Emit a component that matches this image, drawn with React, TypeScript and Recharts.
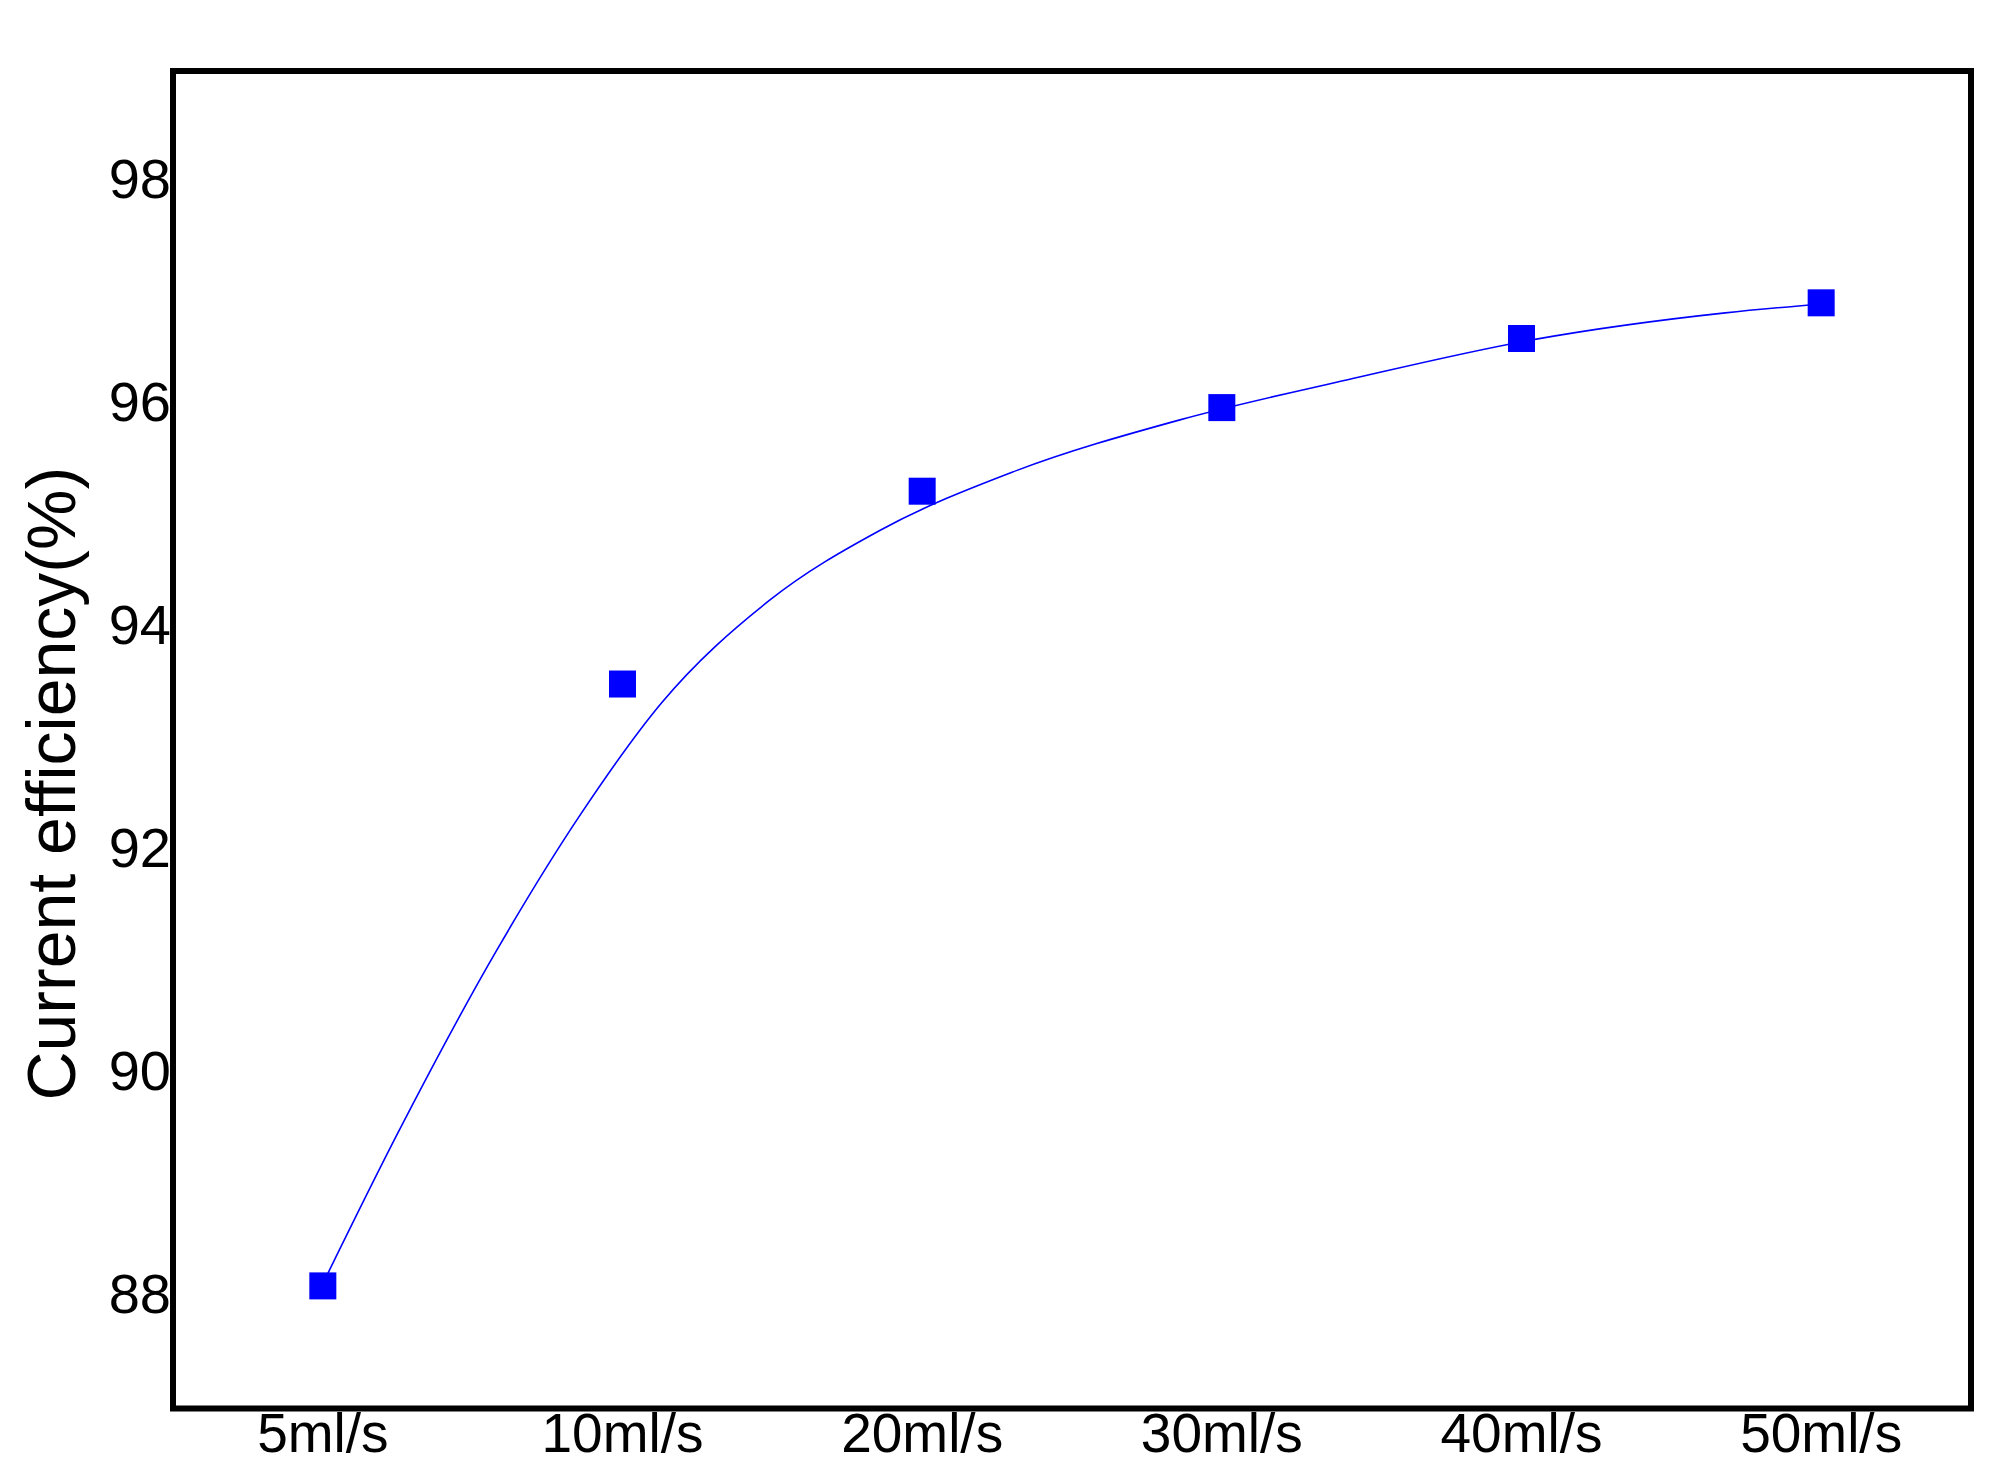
import React from "react";
import {
  ComposedChart,
  Line,
  Scatter,
  XAxis,
  YAxis,
  ReferenceArea,
} from "recharts";

// Categories (flow rates) shown on the x axis
const categories = ["5ml/s", "10ml/s", "20ml/s", "30ml/s", "40ml/s", "50ml/s"];

// Measured current efficiency (%) at each flow rate
const efficiency = [88.1, 93.5, 95.23, 95.98, 96.6, 96.92];

// Fitted curve: position along the category axis and value
const fitPos = [0, 0.25, 0.58, 0.86, 1.13, 1.49, 1.86, 2.3, 2.86, 3.42, 4.04, 4.68, 5];
const fitVal = [88.12, 89.47, 91.11, 92.33, 93.33, 94.25, 94.88, 95.4, 95.87, 96.23, 96.59, 96.83, 96.91];

// Y axis ticks
const yTicks = [88, 90, 92, 94, 96, 98];

const points = categories.map((c, i) => ({ x: i, v: efficiency[i], name: c }));
const curve = fitPos.map((p, i) => ({ x: p, v: fitVal[i] }));

const FONT = "'Liberation Sans', Arial, Helvetica, sans-serif";

const SquareMarker = (props: any) => {
  const { cx, cy } = props;
  const s = 27;
  return <rect x={cx - s / 2} y={cy - s / 2} width={s} height={s} fill="#0000ff" />;
};

const YTitle = (props: any) => {
  const vb = props.viewBox || {};
  const cx = vb.x - 22;
  const cy = vb.y + vb.height / 2 + 44;
  return (
    <text
      x={cx}
      y={cy}
      transform={`rotate(-90 ${cx} ${cy})`}
      textAnchor="middle"
      dominantBaseline="central"
      fontFamily={FONT}
      fontSize={68}
      fill="#000"
    >
      Current efficiency(%)
    </text>
  );
};

export default function App() {
  return (
    <div style={{ position: "absolute", left: 0, top: 0, width: 1998, height: 1483, background: "#fff" }}>
      <ComposedChart
        width={1998}
        height={1483}
        margin={{ top: 71, right: 27, bottom: 14.5, left: 73 }}
      >
        <XAxis
          dataKey="x"
          type="number"
          domain={[-0.5, 5.5]}
          ticks={[0, 1, 2, 3, 4, 5]}
          tickFormatter={(v: number) => categories[v]}
          allowDataOverflow
          axisLine={false}
          tickLine={false}
          tickSize={0}
          tickMargin={4}
          height={60}
          tick={{ fontSize: 55, fill: "#000", fontFamily: FONT }}
          interval={0}
        />
        <YAxis
          dataKey="v"
          type="number"
          domain={[87, 99]}
          ticks={yTicks}
          allowDataOverflow
          axisLine={false}
          tickLine={false}
          tickSize={0}
          tickMargin={2}
          width={100}
          tick={{ fontSize: 56, fill: "#000", fontFamily: FONT, dy: -4 }}
          label={{ content: YTitle }}
        />
        <ReferenceArea
          x1={-0.5}
          x2={5.5}
          y1={87}
          y2={99}
          fill="none"
          fillOpacity={0}
          stroke="#000"
          strokeWidth={6}
          ifOverflow="visible"
        />
        <Line
          data={curve}
          dataKey="v"
          type="monotone"
          stroke="#0000ff"
          strokeWidth={1.6}
          dot={false}
          activeDot={false}
          isAnimationActive={false}
        />
        <Scatter
          data={points}
          dataKey="v"
          fill="#0000ff"
          shape={SquareMarker}
          isAnimationActive={false}
        />
      </ComposedChart>
    </div>
  );
}
